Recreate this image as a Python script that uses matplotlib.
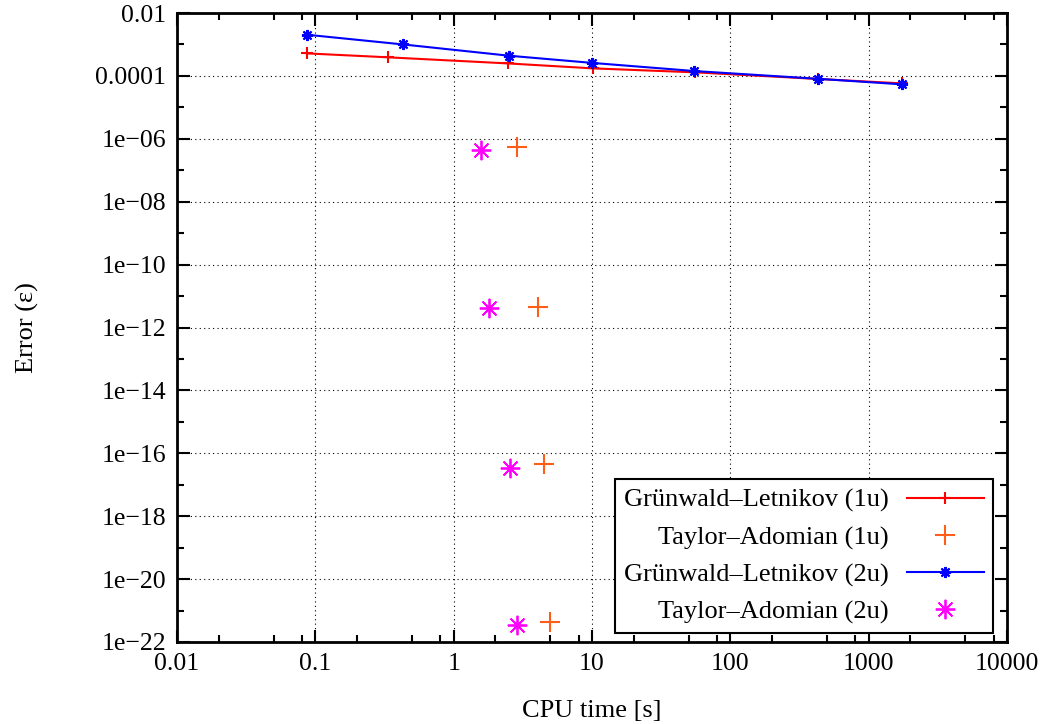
import numpy as np
import matplotlib
matplotlib.use("Agg")
import matplotlib.pyplot as plt
from matplotlib.ticker import FixedLocator, NullFormatter

plt.rcParams['font.family'] = ['Liberation Serif', 'DejaVu Serif']

# Grünwald-Letnikov (1u)
gl1_t = [0.0875, 0.337, 2.46, 10.1, 55.5, 430, 1740]
gl1_err = [5.2e-4, 3.9e-4, 2.5e-4, 1.74e-4, 1.3e-4, 8.0e-5, 5.8e-5]
# Grünwald-Letnikov (2u)
gl2_t = [0.087, 0.433, 2.5, 9.95, 55, 430, 1740]
gl2_err = [2.04e-3, 1.0e-3, 4.4e-4, 2.6e-4, 1.43e-4, 8.1e-5, 5.4e-5]
# Taylor-Adomian (1u)
ta1_t = [2.89, 4.05, 4.52, 4.97]
ta1_err = [5.6e-7, 4.6e-12, 4.5e-17, 4.2e-22]
# Taylor-Adomian (2u)
ta2_t = [1.58, 1.81, 2.55, 2.86]
ta2_err = [4.4e-7, 4.1e-12, 3.3e-17, 3.5e-22]

xticks = [0.01, 0.1, 1, 10, 100, 1000, 10000]
xticklabels = ["0.01", "0.1", "1", "10", "100", "1000", "10000"]
yticks = [10.0 ** e for e in range(-22, -1, 2)]
yticklabels = ["1e\u2212%02d" % -e for e in range(-22, -5, 2)] + ["0.0001", "0.01"]

fig = plt.figure(figsize=(10.5, 7.24), dpi=100)
ax = fig.add_axes([0.1686, 0.1133, 0.7905, 0.8687])

ax.plot(gl1_t, gl1_err, color="#ff0000", lw=1.5, marker="+", ms=8, mew=1.5,
        label="Grünwald–Letnikov (1u)")
ax.plot(ta1_t, ta1_err, ls="none", color="#ff5e1a", marker="+", ms=14, mew=1.5,
        label="Taylor–Adomian (1u)")
ax.plot(gl2_t, gl2_err, color="#0000ff", lw=1.5, marker=(8, 2, 0), ms=8, mew=1.5,
        label="Grünwald–Letnikov (2u)")
ax.plot(ta2_t, ta2_err, ls="none", color="#ff00ff", marker=(8, 2, 0), ms=14, mew=1.3,
        label="Taylor–Adomian (2u)")

ax.set_xscale("log")
ax.set_yscale("log")
ax.set_xlim(0.01, 10000)
ax.set_ylim(1e-22, 0.01)

ax.xaxis.set_major_locator(FixedLocator(xticks))
ax.set_xticklabels(xticklabels)
minor_x = [m * 10.0 ** e for e in range(-2, 4) for m in (2, 5, 8)]
ax.xaxis.set_minor_locator(FixedLocator(minor_x))
ax.xaxis.set_minor_formatter(NullFormatter())

ax.yaxis.set_major_locator(FixedLocator(yticks))
ax.set_yticklabels(yticklabels)
ax.yaxis.set_minor_locator(FixedLocator([10.0 ** e for e in range(-21, -2, 2)]))
ax.yaxis.set_minor_formatter(NullFormatter())

ax.tick_params(which="both", direction="in", top=True, right=True, labelsize=18.5,
               width=1.5, colors="black")
ax.tick_params(which="major", length=9, pad=8)
ax.tick_params(which="minor", length=5)

ax.grid(True, which="major", linestyle=(0, (1, 3)), color="black", lw=0.8)
for s in ax.spines.values():
    s.set_linewidth(2)

ax.set_xlabel("CPU time [s]", fontsize=19, labelpad=18)
ax.set_ylabel("Error (ε)", fontsize=19, labelpad=40)

leg = ax.legend(loc="lower right", bbox_to_anchor=(0.983, 0.0143), borderaxespad=0,
                markerfirst=False, fontsize=19, fancybox=False,
                edgecolor="black", framealpha=1, handlelength=2.9,
                labelspacing=0.5, handletextpad=0.7, borderpad=0.35)
leg.get_frame().set_linewidth(1.5)
for vp in leg._legend_handle_box.get_children():
    vp.align = "right"

fig.savefig("out.png", dpi=100)
